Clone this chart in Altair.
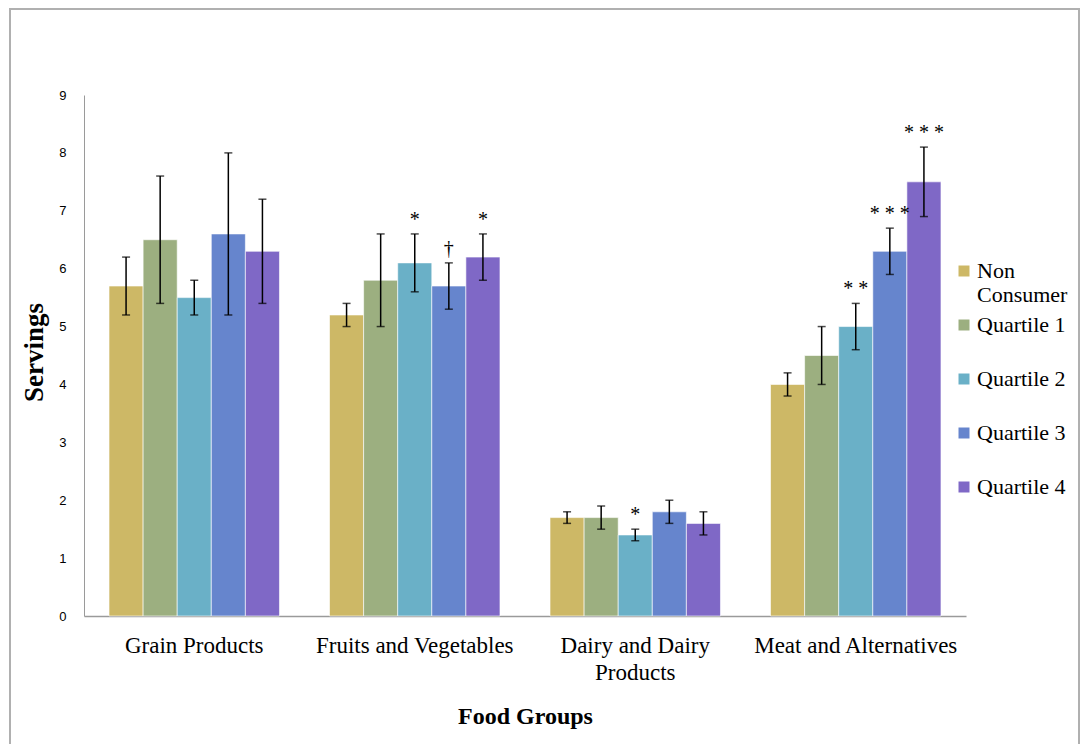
import altair as alt
import pandas as pd

groups = ["Grain Products", "Fruits and Vegetables", "Dairy and Dairy Products", "Meat and Alternatives"]
series = ["Non Consumer", "Quartile 1", "Quartile 2", "Quartile 3", "Quartile 4"]
colors = ["#CDB866", "#9CAF80", "#6AB0C7", "#6685CD", "#7F68C6"]

means = {
    "Non Consumer": [5.7, 5.2, 1.7, 4.0],
    "Quartile 1": [6.5, 5.8, 1.7, 4.5],
    "Quartile 2": [5.5, 6.1, 1.4, 5.0],
    "Quartile 3": [6.6, 5.7, 1.8, 6.3],
    "Quartile 4": [6.3, 6.2, 1.6, 7.5],
}
lower = {
    "Non Consumer": [5.2, 5.0, 1.6, 3.8],
    "Quartile 1": [5.4, 5.0, 1.5, 4.0],
    "Quartile 2": [5.2, 5.6, 1.3, 4.6],
    "Quartile 3": [5.2, 5.3, 1.6, 5.9],
    "Quartile 4": [5.4, 5.8, 1.4, 6.9],
}
upper = {
    "Non Consumer": [6.2, 5.4, 1.8, 4.2],
    "Quartile 1": [7.6, 6.6, 1.9, 5.0],
    "Quartile 2": [5.8, 6.6, 1.5, 5.4],
    "Quartile 3": [8.0, 6.1, 2.0, 6.7],
    "Quartile 4": [7.2, 6.6, 1.8, 8.1],
}
signif = {
    "Non Consumer": ["", "", "", ""],
    "Quartile 1": ["", "", "", ""],
    "Quartile 2": ["", "*", "*", "* *"],
    "Quartile 3": ["", "\u2020", "", "* * *"],
    "Quartile 4": ["", "*", "", "* * *"],
}

rows = []
for s in series:
    for i, g in enumerate(groups):
        rows.append({"group": g, "series": s, "mean": means[s][i],
                     "lo": lower[s][i], "hi": upper[s][i], "sig": signif[s][i]})
df = pd.DataFrame(rows)
sigdf = df[df["sig"] != ""]

SERIF = "Liberation Serif"
SANS = "Liberation Sans"

xenc = alt.X("group:N", sort=groups,
             scale=alt.Scale(paddingInner=0.227, paddingOuter=0.1135),
             axis=alt.Axis(labelAngle=0, ticks=False, domainColor="#9a9a9a", domainWidth=1.5,
                           labelFont=SERIF, labelFontSize=23, labelColor="#000", labelPadding=18,
                           labelLineHeight=27, labelLimit=300,
                           labelExpr="datum.label == 'Dairy and Dairy Products' ? ['Dairy and Dairy', 'Products'] : datum.label",
                           title="Food Groups", titleFont=SERIF, titleFontSize=24,
                           titleFontWeight="bold", titleColor="#000", titlePadding=20))
xoff = alt.XOffset("series:N", sort=series, scale=alt.Scale(paddingInner=0, paddingOuter=0))
yscale = alt.Scale(domain=[0, 9], nice=False)
yaxis = alt.Axis(values=list(range(10)), format="d", grid=False, ticks=False, domainColor="#9a9a9a",
                 labelFont=SANS, labelFontSize=13, labelColor="#000", labelPadding=18,
                 title="Servings", titleFont=SERIF, titleFontSize=27, titleFontWeight="bold",
                 titleColor="#000", titleX=-50, titleY=257, titleBaseline="middle", titleAngle=270)

base = alt.Chart(df).encode(x=xenc, xOffset=xoff)

bars = base.mark_bar(stroke="white", strokeOpacity=0.6, strokeWidth=1).encode(
    y=alt.Y("mean:Q", scale=yscale, axis=yaxis),
    color=alt.Color("series:N", sort=series, scale=alt.Scale(domain=series, range=colors),
                    legend=alt.Legend(title=None, orient="none", legendX=869, legendY=165,
                                      symbolType="square", symbolSize=121, symbolStrokeWidth=0,
                                      labelFont=SERIF, labelFontSize=22, labelColor="#000",
                                      labelOffset=2, rowPadding=8, padding=0,
                                      labelExpr="datum.label == 'Non Consumer' ? ['Non', 'Consumer'] : [datum.label, ' ']")),
)
rules = base.mark_rule(color="black", strokeWidth=1.5).encode(y="lo:Q", y2="hi:Q")
cap_hi = base.mark_tick(color="black", size=8, thickness=1.5).encode(y="hi:Q")
cap_lo = base.mark_tick(color="black", size=8, thickness=1.5).encode(y="lo:Q")
labels = alt.Chart(sigdf).mark_text(font=SERIF, fontSize=20, baseline="alphabetic",
                                    dy=-8, color="#000").encode(
    x=alt.X("group:N", sort=groups), xOffset=alt.XOffset("series:N", sort=series),
    y="hi:Q", text="sig:N")

frame = alt.Chart(pd.DataFrame({"a": [0]})).mark_rect(fill=None, stroke="#b0b0b0", strokeWidth=2).encode(
    x=alt.value(-74), x2=alt.value(995), y=alt.value(-86), y2=alt.value(700))

chart = alt.layer(frame, bars, rules, cap_hi, cap_lo, labels).properties(
    width=882, height=521,
    autosize=alt.AutoSizeParams(type="none"),
    padding={"left": 76, "top": 87, "right": 116, "bottom": 128},
).configure_view(stroke=None)

chart.save("out.html", embed_options={"renderer": "svg", "actions": False})
